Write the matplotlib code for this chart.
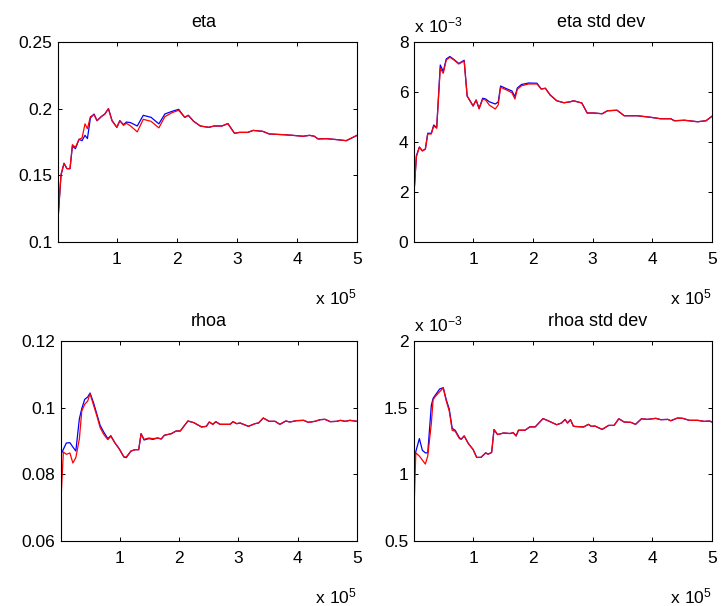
import matplotlib
matplotlib.use("Agg")
import matplotlib.pyplot as plt
import numpy as np

plt.rcParams['font.family'] = ['Liberation Sans', 'DejaVu Sans']
plt.rcParams['mathtext.fontset'] = 'custom'
plt.rcParams['mathtext.rm'] = 'Liberation Sans'

# ---------------- data (x in units of 1e5 draws) ----------------
x_eta = [0.02, 0.07, 0.12, 0.17, 0.22, 0.26, 0.31, 0.37, 0.42, 0.47, 0.51, 0.56, 0.62, 0.67,
         0.74, 0.80, 0.86, 0.92, 1.00, 1.05, 1.11, 1.16, 1.23, 1.34, 1.44, 1.57, 1.70, 1.80,
         1.92, 2.03, 2.13, 2.19, 2.28, 2.39, 2.53, 2.62, 2.75, 2.85, 2.96, 3.04, 3.18, 3.27,
         3.43, 3.54, 3.77, 3.93, 4.10, 4.21, 4.29, 4.35, 4.49, 4.66, 4.82, 4.88, 5.00]
eta_red = [0.117, 0.1507, 0.159, 0.155, 0.155, 0.173, 0.171, 0.177, 0.178, 0.1886, 0.185, 0.194,
           0.1955, 0.191, 0.194, 0.196, 0.200, 0.191, 0.186, 0.191, 0.1875, 0.189, 0.187, 0.1826,
           0.192, 0.1905, 0.1856, 0.194, 0.197, 0.1988, 0.1935, 0.195, 0.1905, 0.187, 0.186,
           0.187, 0.187, 0.1888, 0.1815, 0.1822, 0.1822, 0.1837, 0.183, 0.181, 0.1805, 0.180,
           0.1793, 0.180, 0.1793, 0.1773, 0.1775, 0.1768, 0.176, 0.1773, 0.180]
eta_blue = [0.117, 0.150, 0.159, 0.155, 0.155, 0.172, 0.170, 0.177, 0.176, 0.180, 0.1776, 0.193,
            0.196, 0.191, 0.194, 0.196, 0.200, 0.191, 0.186, 0.191, 0.188, 0.190, 0.1895, 0.187,
            0.195, 0.1935, 0.1886, 0.196, 0.198, 0.1995, 0.1935, 0.195, 0.1905, 0.187, 0.186,
            0.187, 0.187, 0.1888, 0.1815, 0.1822, 0.1822, 0.1837, 0.183, 0.181, 0.1805, 0.180,
            0.1793, 0.180, 0.1793, 0.1773, 0.1775, 0.1768, 0.176, 0.1773, 0.180]

x_eta_sd = [0.01, 0.05, 0.10, 0.15, 0.20, 0.24, 0.30, 0.34, 0.39, 0.45, 0.50, 0.55, 0.61, 0.68,
            0.76, 0.85, 0.90, 1.00, 1.05, 1.10, 1.16, 1.21, 1.27, 1.37, 1.42, 1.46, 1.56, 1.65,
            1.70, 1.74, 1.81, 1.93, 2.07, 2.14, 2.21, 2.29, 2.40, 2.52, 2.63, 2.68, 2.82, 2.91,
            3.02, 3.16, 3.25, 3.41, 3.53, 3.75, 3.97, 4.14, 4.31, 4.37, 4.54, 4.76, 4.90, 5.00]
# values in units of 1e-3
eta_sd_red = [1.95, 3.41, 3.79, 3.64, 3.71, 4.32, 4.32, 4.64, 4.55, 6.95, 6.75, 7.28, 7.39, 7.28,
              7.12, 7.24, 5.84, 5.44, 5.68, 5.32, 5.71, 5.68, 5.48, 5.32, 5.48, 6.19, 6.08, 5.97,
              5.72, 6.11, 6.25, 6.32, 6.32, 6.12, 6.15, 5.88, 5.65, 5.57, 5.61, 5.65, 5.56, 5.16,
              5.16, 5.13, 5.25, 5.27, 5.05, 5.05, 4.99, 4.93, 4.93, 4.85, 4.87, 4.81, 4.85, 5.03]
eta_sd_blue = [1.95, 3.45, 3.80, 3.65, 3.72, 4.35, 4.35, 4.68, 4.58, 7.08, 6.82, 7.32, 7.42, 7.30,
               7.14, 7.27, 5.84, 5.44, 5.68, 5.35, 5.75, 5.72, 5.61, 5.52, 5.60, 6.24, 6.13, 6.04,
               5.82, 6.16, 6.30, 6.36, 6.35, 6.12, 6.15, 5.88, 5.65, 5.57, 5.61, 5.65, 5.56, 5.16,
               5.16, 5.13, 5.25, 5.27, 5.05, 5.05, 4.99, 4.93, 4.93, 4.85, 4.87, 4.81, 4.85, 5.03]

x_rhoa = [0.01, 0.05, 0.10, 0.16, 0.21, 0.26, 0.32, 0.36, 0.41, 0.46, 0.50, 0.56, 0.62, 0.67,
          0.73, 0.80, 0.85, 0.92, 0.99, 1.07, 1.11, 1.19, 1.26, 1.32, 1.36, 1.41, 1.49, 1.56,
          1.64, 1.70, 1.75, 1.87, 1.95, 2.02, 2.15, 2.25, 2.38, 2.46, 2.51, 2.57, 2.62, 2.69,
          2.86, 2.91, 2.97, 3.03, 3.17, 3.28, 3.34, 3.42, 3.52, 3.62, 3.70, 3.80, 3.87, 3.98,
          4.10, 4.18, 4.29, 4.38, 4.46, 4.55, 4.66, 4.72, 4.80, 4.88, 5.00]
rhoa_red = [0.0727, 0.0867, 0.0860, 0.0864, 0.0834, 0.0850, 0.0907, 0.0990, 0.1010, 0.1020,
            0.1042, 0.1007, 0.0972, 0.0940, 0.0920, 0.0904, 0.0914, 0.0894, 0.0877, 0.0852,
            0.0852, 0.0870, 0.0874, 0.0874, 0.0922, 0.0905, 0.0909, 0.0907, 0.0909, 0.0906,
            0.0917, 0.0922, 0.0930, 0.0930, 0.0960, 0.0955, 0.0942, 0.0944, 0.0957, 0.0950,
            0.0958, 0.0950, 0.0950, 0.0958, 0.0952, 0.0954, 0.0944, 0.0952, 0.0954, 0.0969,
            0.0959, 0.0959, 0.0950, 0.0960, 0.0957, 0.0961, 0.0962, 0.0956, 0.0959, 0.0964,
            0.0965, 0.0958, 0.0959, 0.0962, 0.0959, 0.0962, 0.0959]
rhoa_blue = [0.0860, 0.0875, 0.0894, 0.0895, 0.0882, 0.0870, 0.0967, 0.0997, 0.1025, 0.1032,
             0.1044, 0.1014, 0.0977, 0.0947, 0.0927, 0.0907, 0.0916, 0.0894, 0.0877, 0.0852,
             0.0850, 0.0870, 0.0874, 0.0874, 0.0922, 0.0903, 0.0907, 0.0905, 0.0909, 0.0906,
             0.0917, 0.0922, 0.0930, 0.0930, 0.0960, 0.0955, 0.0942, 0.0944, 0.0957, 0.0950,
             0.0958, 0.0950, 0.0950, 0.0958, 0.0952, 0.0954, 0.0944, 0.0952, 0.0954, 0.0969,
             0.0959, 0.0959, 0.0950, 0.0960, 0.0957, 0.0961, 0.0962, 0.0956, 0.0959, 0.0964,
             0.0965, 0.0958, 0.0959, 0.0962, 0.0959, 0.0962, 0.0959]

x_rhoa_sd = [0.01, 0.04, 0.10, 0.15, 0.20, 0.24, 0.30, 0.33, 0.36, 0.44, 0.50, 0.55, 0.60, 0.65,
             0.70, 0.77, 0.80, 0.85, 0.92, 1.00, 1.06, 1.13, 1.21, 1.25, 1.31, 1.35, 1.41, 1.51,
             1.62, 1.67, 1.72, 1.76, 1.87, 1.95, 2.04, 2.17, 2.24, 2.40, 2.48, 2.54, 2.58, 2.63,
             2.68, 2.85, 2.93, 2.98, 3.04, 3.16, 3.27, 3.36, 3.44, 3.53, 3.64, 3.72, 3.82, 3.92,
             4.06, 4.14, 4.26, 4.31, 4.42, 4.51, 4.62, 4.76, 4.87, 4.96, 5.00]
# values in units of 1e-3
rhoa_sd_red = [0.733, 1.161, 1.137, 1.107, 1.077, 1.137, 1.38, 1.56, 1.58, 1.62, 1.647, 1.55,
               1.475, 1.33, 1.323, 1.268, 1.263, 1.288, 1.231, 1.186, 1.127, 1.127, 1.161, 1.151,
               1.164, 1.336, 1.298, 1.31, 1.306, 1.313, 1.288, 1.331, 1.331, 1.356, 1.356, 1.418,
               1.405, 1.372, 1.385, 1.412, 1.385, 1.41, 1.36, 1.355, 1.375, 1.36, 1.362, 1.337,
               1.367, 1.367, 1.417, 1.392, 1.39, 1.375, 1.417, 1.412, 1.42, 1.41, 1.412, 1.402,
               1.422, 1.42, 1.405, 1.405, 1.397, 1.40, 1.392]
rhoa_sd_blue = [1.11, 1.17, 1.268, 1.18, 1.161, 1.161, 1.517, 1.57, 1.59, 1.64, 1.65, 1.56,
                1.49, 1.345, 1.33, 1.275, 1.263, 1.288, 1.231, 1.186, 1.127, 1.127, 1.161, 1.151,
                1.164, 1.336, 1.298, 1.31, 1.306, 1.313, 1.288, 1.331, 1.331, 1.356, 1.356, 1.418,
                1.405, 1.372, 1.385, 1.412, 1.385, 1.41, 1.36, 1.355, 1.375, 1.36, 1.362, 1.337,
                1.367, 1.367, 1.417, 1.392, 1.39, 1.375, 1.417, 1.412, 1.42, 1.41, 1.412, 1.402,
                1.422, 1.42, 1.405, 1.405, 1.397, 1.40, 1.392]

titles = ["eta", "eta std dev", "rhoa", "rhoa std dev"]
x_ticks = [1, 2, 3, 4, 5]
x_ticklabels = ["1", "2", "3", "4", "5"]
eta_yticks = [0.1, 0.15, 0.2, 0.25]
eta_yticklabels = ["0.1", "0.15", "0.2", "0.25"]
eta_sd_yticks = [0, 2, 4, 6, 8]
eta_sd_yticklabels = ["0", "2", "4", "6", "8"]
rhoa_yticks = [0.06, 0.08, 0.1, 0.12]
rhoa_yticklabels = ["0.06", "0.08", "0.1", "0.12"]
rhoa_sd_yticks = [0.5, 1, 1.5, 2]
rhoa_sd_yticklabels = ["0.5", "1", "1.5", "2"]

W, H = 721, 606
fig = plt.figure(figsize=(W / 100, H / 100), dpi=100)

def px_axes(l, t, r, b):
    return fig.add_axes([l / W, 1 - b / H, (r - l) / W, (b - t) / H])

panels = [
    (px_axes(58, 42, 357, 242), x_eta, eta_red, eta_blue, eta_yticks, eta_yticklabels, False, 0.487),
    (px_axes(414, 42, 712, 242), x_eta_sd, eta_sd_red, eta_sd_blue, eta_sd_yticks, eta_sd_yticklabels, True, 0.627),
    (px_axes(61, 341, 357, 541), x_rhoa, rhoa_red, rhoa_blue, rhoa_yticks, rhoa_yticklabels, False, 0.50),
    (px_axes(414, 341, 712, 541), x_rhoa_sd, rhoa_sd_red, rhoa_sd_blue, rhoa_sd_yticks, rhoa_sd_yticklabels, True, 0.615),
]

FS = 12.5
for (ax, xs, red, blue, yt, ytl, sci, tx), title in zip(panels, titles):
    ax.plot(xs, blue, color=(0, 0, 1), lw=0.9)
    ax.plot(xs, red, color=(1, 0, 0), lw=0.9)
    ax.set_xlim(xs[0], 5)
    ax.set_ylim(yt[0], yt[-1])
    ax.set_xticks(x_ticks)
    ax.set_xticklabels(x_ticklabels)
    ax.set_yticks(yt)
    ax.set_yticklabels(ytl)
    ax.tick_params(direction='in', top=True, right=True, length=3, width=0.7,
                   labelsize=FS, colors='black')
    ax.tick_params(axis='x', pad=7.5)
    ax.tick_params(axis='y', pad=4)
    for s in ax.spines.values():
        s.set_linewidth(0.8)
    ax.set_title(title, fontsize=13, pad=11, x=tx)
    ax.text(1.0, -0.31, r'$\mathregular{x\ 10^{5}}$', transform=ax.transAxes,
            ha='right', va='baseline', fontsize=FS)
    if sci:
        ax.text(0.0, 1.05, r'$\mathregular{x\ 10^{-3}}$', transform=ax.transAxes,
                ha='left', va='baseline', fontsize=FS)

fig.savefig("out.png", dpi=100)
